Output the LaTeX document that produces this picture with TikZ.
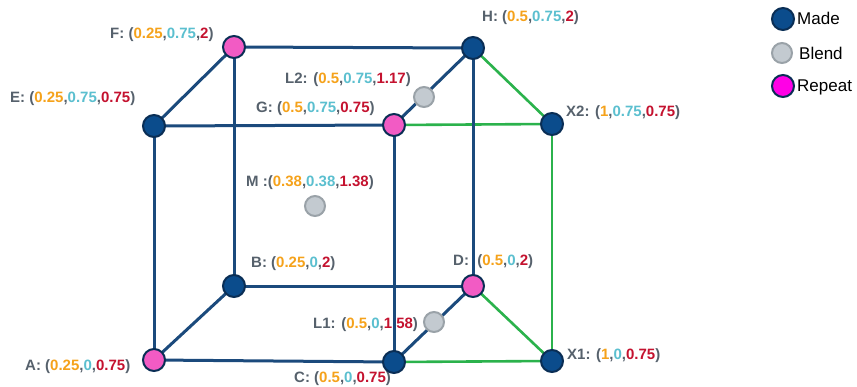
\documentclass[tikz,border=0pt]{standalone}
\usepackage{fontspec}
\setmainfont{Liberation Sans}
\definecolor{navy}{HTML}{1B4A7C}
\definecolor{madefill}{HTML}{0B4C8C}
\definecolor{madeedge}{HTML}{0A2E55}
\definecolor{pinkfill}{HTML}{F25BC4}
\definecolor{magfill}{HTML}{FF00E6}
\definecolor{greyfill}{HTML}{C3CAD0}
\definecolor{greyedge}{HTML}{9AA2A8}
\definecolor{grn}{HTML}{2BB24C}
\definecolor{labgrey}{HTML}{56616C}
\definecolor{corange}{HTML}{F5A21B}
\definecolor{ccyan}{HTML}{5BBFCF}
\definecolor{cred}{HTML}{C4122F}
\newcommand\lbl[4]{#1(\textcolor{corange}{#2},\textcolor{ccyan}{#3},\textcolor{cred}{#4})}
\begin{document}
\begin{tikzpicture}[x=1pt,y=-1pt,
  pt/.style={circle,inner sep=0pt,minimum size=22pt,line width=2pt},
  made/.style={pt,draw=madeedge,fill=madefill},
  rep/.style={pt,draw=madeedge,fill=pinkfill},
  blend/.style={pt,draw=greyedge,fill=greyfill,minimum size=20pt},
  edge/.style={draw=navy,line width=3pt},
  gedge/.style={draw=grn,line width=2.6pt},
  lab/.style={inner sep=0pt,anchor=west,text=labgrey,font=\fontsize{15}{17}\selectfont\bfseries},
  legtext/.style={inner sep=0pt,anchor=west,text=black,font=\fontsize{17}{19}\selectfont}]
\useasboundingbox (0,0) rectangle (857,386);
% labels
\node[lab] (lF) at (110,35) {\lbl{F: }{0.25}{0.75}{2}};
\node[lab] (lH) at (482,18) {\lbl{H: }{0.5}{0.75}{2}};
\node[lab] (lE) at (10,99) {\lbl{E: }{0.25}{0.75}{0.75}};
\node[lab] (lL2) at (285,80) {\lbl{L2: }{0.5}{0.75}{1.17}};
\node[lab] (lG) at (256,109) {\lbl{G: }{0.5}{0.75}{0.75}};
\node[lab] (lX2) at (566,113) {\lbl{X2: }{1}{0.75}{0.75}};
\node[lab] (lM) at (246,183) {\lbl{M :}{0.38}{0.38}{1.38}};
\node[lab] (lB) at (251,264) {\lbl{B: }{0.25}{0}{2}};
\node[lab] (lD) at (453,262) {\lbl{D:~ }{0.5}{0}{2}};
\node[lab] (lL1) at (313,325) {\lbl{L1: }{0.5}{0}{1.58}};
\node[lab] (lA) at (25,367) {\lbl{A: }{0.25}{0}{0.75}};
\node[lab] (lC) at (294,379) {\lbl{C: }{0.5}{0}{0.75}};
\node[lab] (lX1) at (567,356) {\lbl{X1: }{1}{0}{0.75}};
% points
\coordinate (pF) at (234,47);
\coordinate (pH) at (473,48);
\coordinate (pE) at (154,126);
\coordinate (pG) at (394,125);
\coordinate (pX2) at (552,124);
\coordinate (pB) at (234,286);
\coordinate (pD) at (473,286);
\coordinate (pA) at (154,360);
\coordinate (pC) at (394,362);
\coordinate (pX1) at (552,361);
% green edges
\draw[gedge] (pH) -- (pX2);
\draw[gedge] (pG) -- (pX2);
\draw[gedge] (pX2) -- (pX1);
\draw[gedge] (pD) -- (pX1);
\draw[gedge] (pC) -- (pX1);
% navy edges
\draw[edge] (pF) -- (pH);
\draw[edge] (pF) -- (pE);
\draw[edge] (pF) -- (pB);
\draw[edge] (pE) -- (pG);
\draw[edge] (pE) -- (pA);
\draw[edge] (pG) -- (pC);
\draw[edge] (pG) -- (pH);
\draw[edge] (pH) -- (pD);
\draw[edge] (pB) -- (pD);
\draw[edge] (pA) -- (pB);
\draw[edge] (pA) -- (pC);
\draw[edge] (pC) -- (pD);
% nodes
\node[rep] (F) at (pF) {};
\node[made] (H) at (pH) {};
\node[made] (E) at (pE) {};
\node[rep] (G) at (pG) {};
\node[made] (X2) at (pX2) {};
\node[made] (B) at (pB) {};
\node[rep] (D) at (pD) {};
\node[rep] (A) at (pA) {};
\node[made] (C) at (pC) {};
\node[made] (X1) at (pX1) {};
\node[blend] (L2) at (424,97) {};
\node[blend] (L1) at (434,322) {};
\node[blend] (M) at (315,206) {};
% legend
\node[made] (lgMade) at (783,19) {};
\node[legtext] (tMade) at (797,18) {Made};
\node[blend] (lgBlend) at (782,53) {};
\node[legtext] (tBlend) at (799,53) {Blend};
\node[made,fill=magfill] (lgRep) at (783,86) {};
\node[legtext] (tRep) at (797,87) {Repeat};
\end{tikzpicture}
\end{document}
